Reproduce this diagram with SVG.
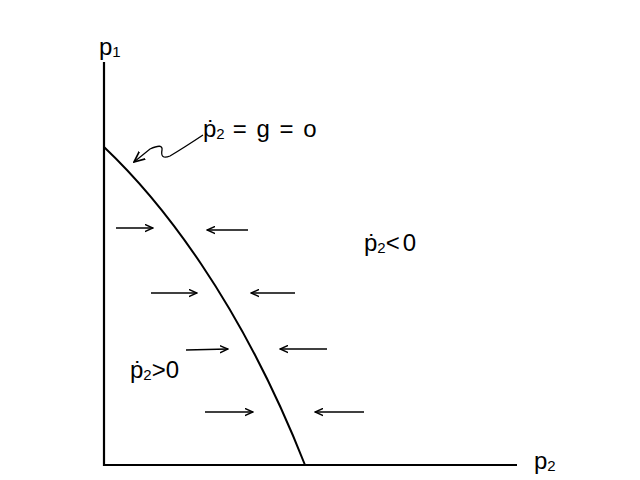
<svg xmlns="http://www.w3.org/2000/svg" width="640" height="480" viewBox="0 0 640 480">
<defs>
<style>
.ax{stroke:#000;stroke-width:2.2;fill:none}
.cv{stroke:#000;stroke-width:2;fill:none}
.ar{stroke:#000;stroke-width:1.3;fill:none}
.t{font-family:"Liberation Sans",Arial,sans-serif;font-size:24px;fill:#000}
.s{font-size:15px}
</style>
<marker id="h" viewBox="0 0 10 10" refX="9" refY="5" markerWidth="9" markerHeight="9" markerUnits="userSpaceOnUse" orient="auto">
<path d="M0,1 L9,5 L0,9" fill="none" stroke="#000" stroke-width="1.6"/>
</marker>
<marker id="h2" viewBox="0 0 10 10" refX="9" refY="5" markerWidth="12" markerHeight="12" markerUnits="userSpaceOnUse" orient="auto">
<path d="M0,1 L9,5 L0,9" fill="none" stroke="#000" stroke-width="1.4"/>
</marker>
</defs>
<rect width="640" height="480" fill="#fff"/>
<g id="axes">
<path class="ax" d="M104,62 L104,465 L517,465"/>
</g>
<g id="curve">
<path class="cv" d="M104,147 C160,200 240,300 305,465"/>
</g>
<g id="connectors">
<path class="ar" d="M116,228 L153,228" marker-end="url(#h)"/>
<path class="ar" d="M248,230 L207,230" marker-end="url(#h)"/>
<path class="ar" d="M151,293 L197,293" marker-end="url(#h)"/>
<path class="ar" d="M295,293 L251,293" marker-end="url(#h)"/>
<path class="ar" d="M186,350 L228,349" marker-end="url(#h)"/>
<path class="ar" d="M327,349 L280,349" marker-end="url(#h)"/>
<path class="ar" d="M205,412 L253,412" marker-end="url(#h)"/>
<path class="ar" d="M364,412 L315,412" marker-end="url(#h)"/>
<path class="ar" d="M203,135 Q185,147 170,156 Q160,160 162,150 Q163,143 150,149 L134,162" marker-end="url(#h2)"/>
</g>
<g id="labels">
<text class="t" x="99" y="55">p<tspan class="s" dy="2">1</tspan></text>
<text class="t" x="203" y="137">ṗ<tspan class="s" dy="2">2</tspan><tspan dy="-2" letter-spacing="1.5"> = g = o</tspan></text>
<text class="t" x="364" y="251">ṗ<tspan class="s" dy="2">2</tspan><tspan dy="-2" letter-spacing="3">&lt;0</tspan></text>
<text class="t" x="130" y="378">ṗ<tspan class="s" dy="2">2</tspan><tspan dy="-2">&gt;0</tspan></text>
<text class="t" x="534" y="469">p<tspan class="s" dy="2">2</tspan></text>
</g>
</svg>
